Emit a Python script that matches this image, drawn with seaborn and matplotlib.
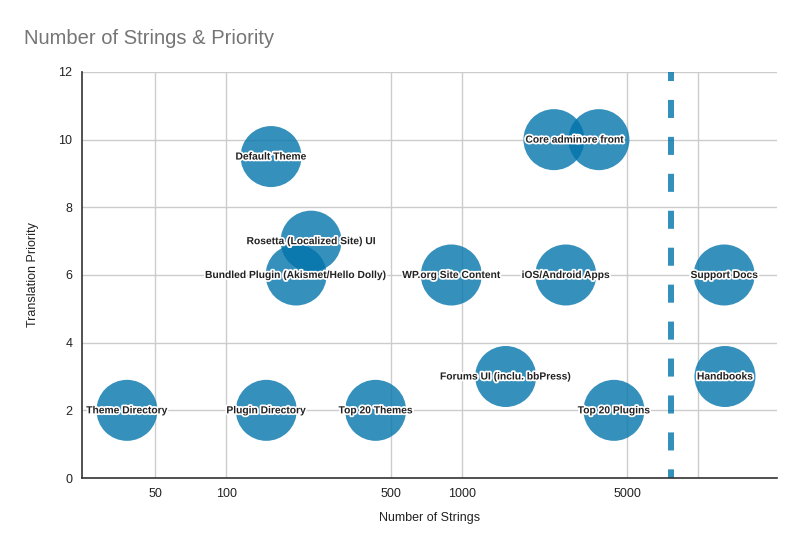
import matplotlib
matplotlib.use("Agg")
import matplotlib.pyplot as plt
import matplotlib.patheffects as pe
import seaborn as sns
import pandas as pd

# ---- data ----
names = ["Theme Directory", "Plugin Directory", "Top 20 Themes", "Forums UI (inclu. bbPress)",
         "Top 20 Plugins", "Handbooks", "Support Docs", "iOS/Android Apps",
         "WP.org Site Content", "Bundled Plugin (Akismet/Hello Dolly)", "Rosetta (Localized Site) UI",
         "Default Theme", "Core front", "Core admin"]
strings = [38, 148, 430, 1530, 4400, 13000, 12900, 2750, 900, 198, 229, 155, 3800, 2450]
priority = [2, 2, 2, 3, 2, 3, 6, 6, 6, 6, 7, 9.5, 10, 10]
threshold = 7700
x_ticks = [50, 100, 500, 1000, 5000, 10000]
x_tick_labels = ["50", "100", "500", "1000", "5000", ""]
y_ticks = [0, 2, 4, 6, 8, 10, 12]

df = pd.DataFrame({"name": names, "strings": strings, "priority": priority})

sns.set_theme(style="white")
plt.rcParams["font.family"] = ["Liberation Sans", "DejaVu Sans"]
plt.rcParams["lines.scale_dashes"] = False

fig = plt.figure(figsize=(8, 5.49), dpi=100)
ax = fig.add_axes([0.1025, 0.1293, 0.86875, 0.7396])

bubble = "#0073ab"
ax.set_xscale("log")
ax.set_xlim(24.5, 21600)
ax.set_ylim(0, 12)

ax.set_xticks(x_ticks)
ax.set_xticklabels(x_tick_labels)
ax.xaxis.set_minor_locator(matplotlib.ticker.NullLocator())
ax.set_yticks(y_ticks)
ax.grid(True, color="#cccccc", linewidth=1)
ax.set_axisbelow(True)
ax.tick_params(length=0, labelsize=9, colors="#222222", pad=7)

for s in ["top", "right"]:
    ax.spines[s].set_visible(False)
for s in ["left", "bottom"]:
    ax.spines[s].set_color("#333333")
    ax.spines[s].set_linewidth(1.2)

# dashed threshold line (dash pattern in points: 18px on, 19px off)
ax.plot([threshold, threshold], [12, 0], color=bubble, alpha=0.8, linewidth=4.3,
        linestyle=(6.5, (13.0, 13.6)), dash_capstyle="butt", zorder=2)

sns.scatterplot(data=df, x="strings", y="priority", s=1930, color=bubble, alpha=0.79,
                edgecolor="none", linewidth=0, ax=ax, zorder=3, legend=False)

for n, xv, yv in zip(df["name"], df["strings"], df["priority"]):
    ax.text(xv, yv, n, ha="center", va="center", fontsize=7.4, fontweight="bold",
            color="#222222", zorder=4,
            path_effects=[pe.withStroke(linewidth=2.5, foreground="white")])

ax.set_xlabel("Number of Strings", fontsize=9, color="#222222", labelpad=9)
ax.set_ylabel("Translation Priority", fontsize=9, color="#222222", labelpad=14)

fig.text(24 / 800, 1 - 38 / 549, "Number of Strings & Priority", fontsize=14.5,
         color="#757575", ha="left", va="center")

fig.savefig("out.png", dpi=100)
